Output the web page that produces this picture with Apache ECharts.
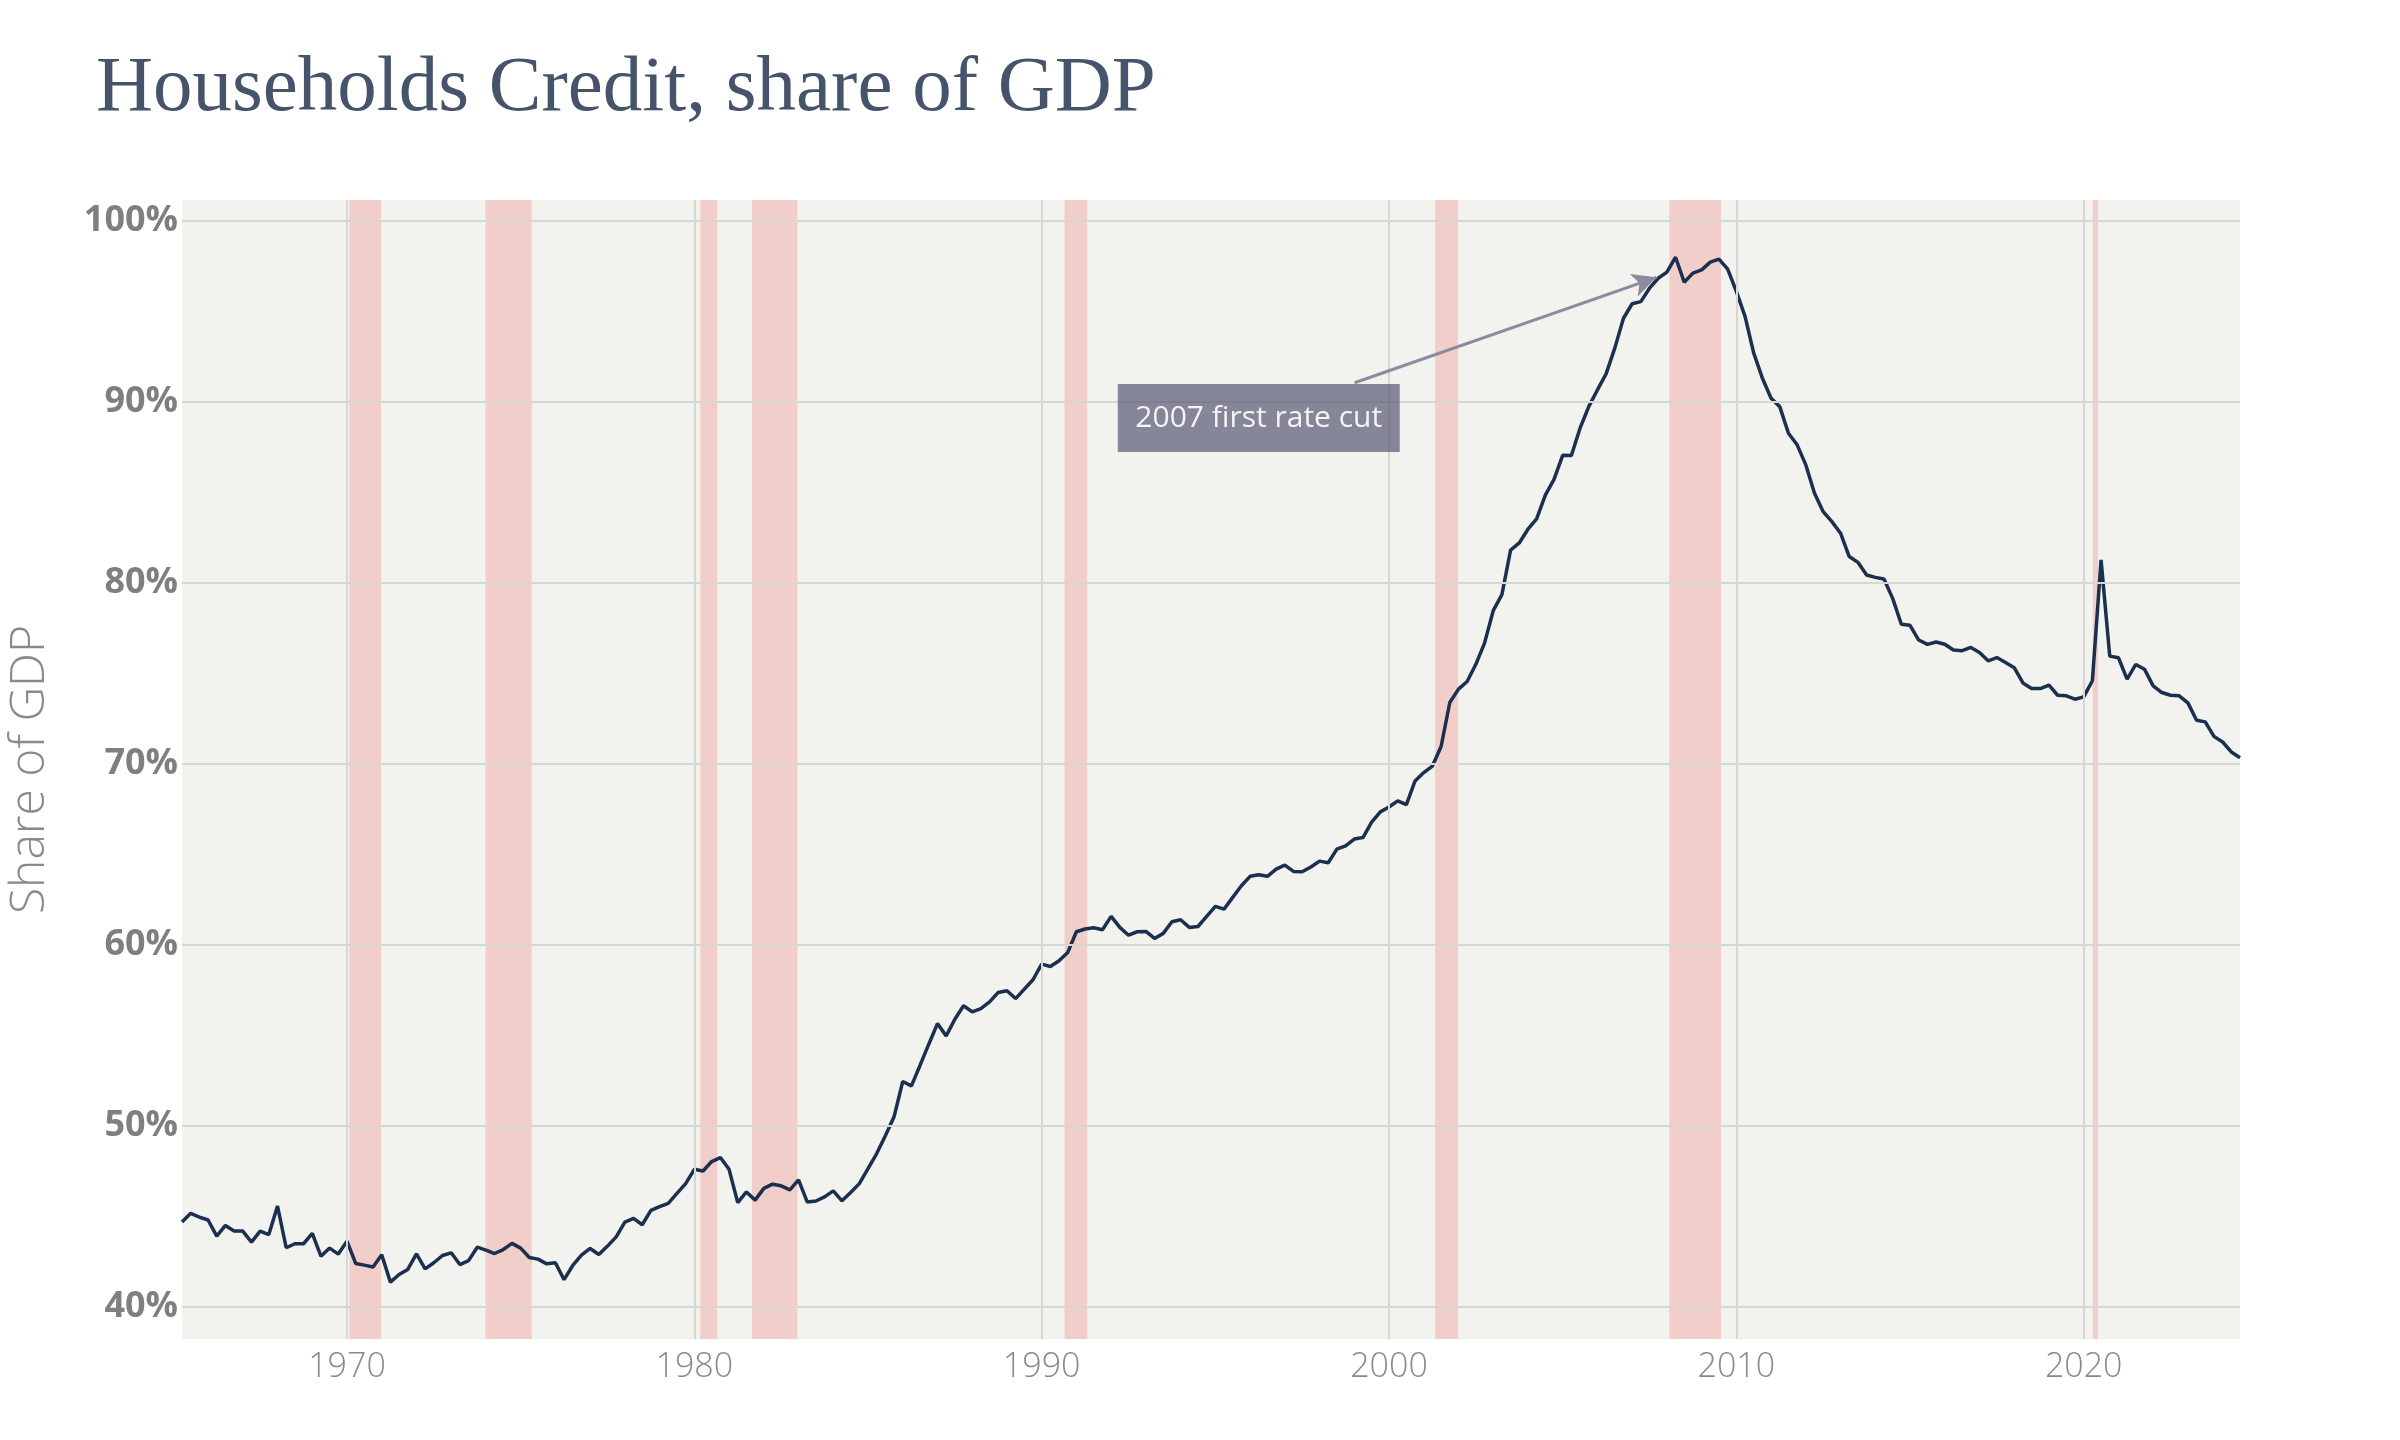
<!DOCTYPE html>
<html>
<head>
<meta charset="utf-8">
<script src="https://cdn.jsdelivr.net/npm/echarts@6/dist/echarts.min.js"></script>
<style>html,body{margin:0;padding:0;background:#ffffff}#c{width:2400px;height:1440px}</style>
</head>
<body>
<div id="c"></div>
<script>
// First observation (year as decimal, quarterly steps)
const firstQuarter = 1965.25;
const quarterStep = 0.25;

// Households credit, % of GDP, read quarter by quarter
const share1960s = [44.69, 45.17, 44.96,
  44.80, 43.91, 44.50, 44.19,
  44.19, 43.58, 44.19, 44.00,
  45.57, 43.27, 43.49, 43.49,
  44.06, 42.80, 43.25, 42.92];
const share1970s = [43.63, 42.40, 42.31, 42.21,
  42.88, 41.37, 41.79, 42.07,
  42.93, 42.10, 42.44, 42.84,
  42.99, 42.34, 42.56, 43.30,
  43.14, 42.95, 43.17, 43.51,
  43.25, 42.73, 42.64, 42.38,
  42.44, 41.51, 42.29, 42.86,
  43.23, 42.90, 43.36, 43.87,
  44.69, 44.89, 44.54, 45.33,
  45.54, 45.72, 46.27, 46.81];
const share1980s = [47.60, 47.51, 48.03, 48.25,
  47.60, 45.76, 46.35, 45.90,
  46.55, 46.78, 46.69, 46.47,
  47.02, 45.80, 45.85, 46.08,
  46.41, 45.86, 46.32, 46.81,
  47.64, 48.47, 49.45, 50.50,
  52.45, 52.21, 53.35, 54.51,
  55.65, 54.97, 55.89, 56.63,
  56.30, 56.48, 56.85, 57.37,
  57.46, 57.03, 57.55, 58.07];
const share1990s = [58.93, 58.80, 59.12, 59.58,
  60.72, 60.87, 60.94, 60.83,
  61.57, 60.96, 60.53, 60.72,
  60.74, 60.35, 60.63, 61.27,
  61.38, 60.96, 61.01, 61.57,
  62.12, 61.97, 62.62, 63.26,
  63.78, 63.87, 63.78, 64.18,
  64.40, 64.05, 64.03, 64.30,
  64.62, 64.53, 65.28, 65.46,
  65.84, 65.92, 66.77, 67.34];
const share2000s = [67.61, 67.95, 67.74, 69.05,
  69.51, 69.87, 70.95, 73.38,
  74.12, 74.54, 75.49, 76.66,
  78.45, 79.34, 81.79, 82.19,
  82.95, 83.52, 84.83, 85.70,
  87.03, 87.02, 88.53, 89.72,
  90.64, 91.53, 92.95, 94.60,
  95.40, 95.52, 96.26, 96.81,
  97.15, 97.97, 96.59, 97.09,
  97.27, 97.70, 97.86, 97.31];
const share2010s = [96.08, 94.70, 92.67, 91.29,
  90.18, 89.72, 88.25, 87.61,
  86.50, 84.94, 83.92, 83.37,
  82.73, 81.44, 81.12, 80.42,
  80.29, 80.20, 79.13, 77.70,
  77.64, 76.83, 76.59, 76.72,
  76.60, 76.28, 76.24, 76.42,
  76.14, 75.68, 75.86, 75.59,
  75.30, 74.46, 74.15, 74.15,
  74.34, 73.78, 73.75, 73.56];
const share2020s = [73.69, 74.58, 81.25, 75.94,
  75.85, 74.67, 75.48, 75.22,
  74.30, 73.93, 73.78, 73.75,
  73.36, 72.40, 72.31, 71.51,
  71.20, 70.65, 70.33];

// Tick labels
const xTicks = [1970, 1980, 1990, 2000, 2010, 2020];
const yTicks = [40, 50, 60, 70, 80, 90, 100];

// Recession periods (year decimals)
const recessions = [
  [1970.07, 1970.98], [1973.99, 1975.32], [1980.17, 1980.66], [1981.66, 1982.97],
  [1990.66, 1991.31], [2001.33, 2001.99], [2008.07, 2009.56], [2020.26, 2020.41]
];

// Annotation (data coordinates)
const annotationText = '2007 first rate cut';
const annotationTip = [2007.70, 96.86];
const annotationTail = [1999.01, 91.04];
const annotationBox = [1996.25, 89.09];

const values = [].concat(share1960s, share1970s, share1980s, share1990s, share2000s, share2010s, share2020s);
const seriesData = values.map((v, i) => [firstQuarter + i * quarterStep, v]);

const chart = echarts.init(document.getElementById('c'), null, {renderer: 'canvas', width: 2400, height: 1440});

const option = {
  animation: false,
  backgroundColor: '#ffffff',
  title: {
    text: 'Households Credit, share of GDP',
    left: 91, top: 45,
    textStyle: {fontFamily: 'Liberation Serif', fontSize: 79, fontWeight: 'normal', color: '#45546b'}
  },
  grid: {
    left: 182, right: 160, top: 200, bottom: 101,
    show: true, backgroundColor: '#f2f2ee', borderWidth: 0,
    outerBoundsMode: 'none'
  },
  xAxis: {
    type: 'value', min: 1965.25, max: 2024.5,
    axisLine: {show: false}, axisTick: {show: false}, splitLine: {show: false},
    axisLabel: {
      customValues: xTicks,
      formatter: v => xTicks.includes(v) ? String(v) : '',
      margin: 11, fontFamily: 'Open Sans', fontWeight: 300, fontSize: 34, color: '#8a8a8a'
    }
  },
  yAxis: {
    type: 'value', min: 38.23, max: 101.13,
    name: 'Share of GDP', nameLocation: 'middle', nameGap: 128, nameRotate: 90,
    nameTextStyle: {fontFamily: 'Open Sans', fontWeight: 300, fontSize: 48, color: '#8a8a8a'},
    axisLine: {show: false}, axisTick: {show: false}, splitLine: {show: false},
    axisLabel: {
      customValues: yTicks,
      formatter: v => yTicks.includes(v) ? v + '%' : '',
      margin: 4, fontFamily: 'Open Sans', fontWeight: 'bold', fontSize: 36, color: '#7f7f7f'
    }
  },
  series: [
    {
      type: 'line', data: [], z: 1, silent: true,
      markLine: {
        silent: true, symbol: 'none', label: {show: false}, animation: false,
        lineStyle: {color: '#d6d6d3', width: 2, type: 'solid'},
        emphasis: {disabled: true},
        data: xTicks.map(x => ({xAxis: x})).concat(yTicks.map(y => ({yAxis: y})))
      }
    },
    {
      type: 'line', name: 'Households credit', data: seriesData, z: 2,
      showSymbol: false, symbol: 'none',
      lineStyle: {color: '#1b2f4f', width: 3.5}
    },
    {
      type: 'line', data: [], z: 3, silent: true,
      markArea: {
        silent: true,
        itemStyle: {color: 'rgba(240,100,90,0.25)'},
        emphasis: {disabled: true},
        data: recessions.map(r => [{xAxis: r[0]}, {xAxis: r[1]}])
      }
    },
    {
      type: 'line', data: [], z: 4, silent: true,
      markLine: {
        silent: true, animation: false,
        symbol: ['none', 'arrow'], symbolSize: [18, 24],
        label: {show: false},
        lineStyle: {color: '#8a8aa0', width: 3, type: 'solid'},
        emphasis: {disabled: true},
        data: [[{coord: annotationTail}, {coord: annotationTip}]]
      },
      markPoint: {
        silent: true, animation: false,
        data: [{
          coord: annotationBox,
          symbol: 'rect', symbolSize: [282, 68],
          itemStyle: {color: 'rgba(80,80,110,0.67)'},
          label: {show: true, position: 'inside', formatter: annotationText,
            color: '#f4f4f4', fontSize: 30, fontFamily: 'Open Sans'}
        }]
      }
    }
  ]
};
chart.setOption(option);
</script>
</body>
</html>
